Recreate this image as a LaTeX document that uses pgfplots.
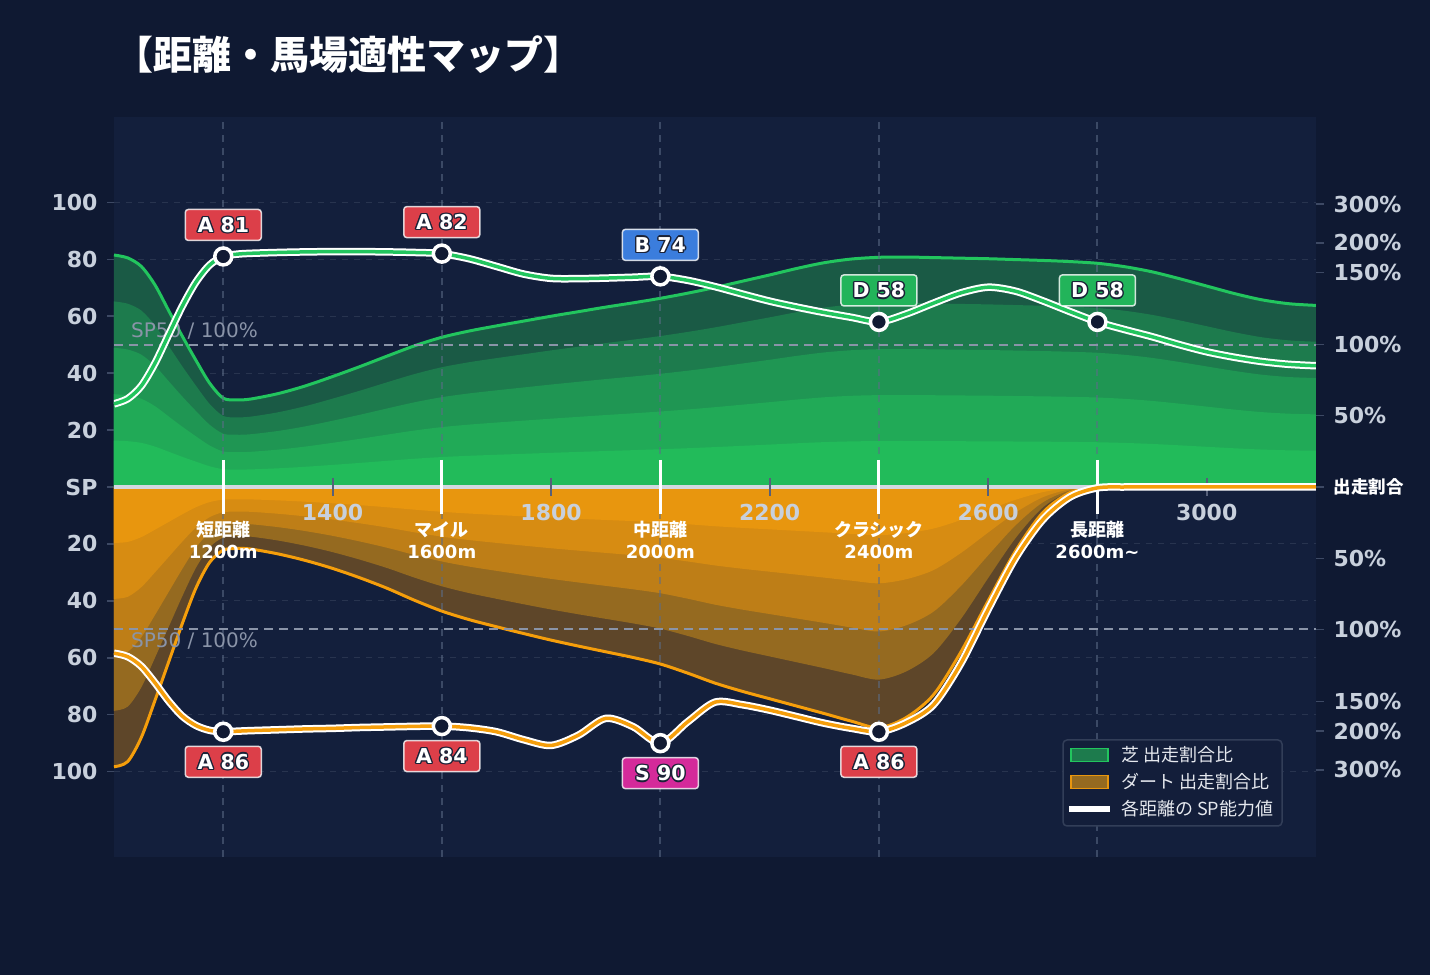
\documentclass[border=0pt]{standalone}
\usepackage{fontspec}
\setmainfont{DejaVu Sans}
\newfontfamily\cjk{Noto Sans CJK JP}
\usepackage{pgfplots}
\usepackage{pgfplotstable}
\pgfplotsset{compat=1.18}

% palette
\definecolor{figbg}{HTML}{0F1932}
\definecolor{plotbg}{HTML}{131F3C}
\definecolor{gridc}{HTML}{28344F}
\definecolor{vgridc}{HTML}{5C6D88}
\definecolor{refc}{HTML}{8A94A8}
\definecolor{ticklbl}{HTML}{C8D0DC}
\definecolor{tickmark}{HTML}{3D4964}
\definecolor{xtickc}{HTML}{56607A}
\definecolor{centerc}{HTML}{D3D8E0}
\definecolor{turf}{HTML}{22C55E}
\definecolor{dirt}{HTML}{F59E0B}
\definecolor{g1}{HTML}{1A5A45}
\definecolor{g2}{HTML}{1D7B4D}
\definecolor{g3}{HTML}{1F9653}
\definecolor{g4}{HTML}{21AA57}
\definecolor{g5}{HTML}{22BB5A}
\definecolor{o1}{HTML}{5E4629}
\definecolor{o2}{HTML}{956A20}
\definecolor{o3}{HTML}{BE7E17}
\definecolor{o4}{HTML}{D78C12}
\definecolor{o5}{HTML}{E8960E}
\definecolor{gradeA}{HTML}{DC3F49}
\definecolor{gradeB}{HTML}{3B7DDD}
\definecolor{gradeD}{HTML}{22B45A}
\definecolor{gradeS}{HTML}{D42A9A}
\definecolor{markfill}{HTML}{111A33}
\definecolor{olc}{HTML}{1B2237}
\definecolor{legbg}{HTML}{131E3A}
\definecolor{legborder}{HTML}{323E58}
\definecolor{legtext}{HTML}{E5E8EE}

\newcommand\fs[1]{\fontsize{#1}{#1}\selectfont}
% white text with a dark outline
\newcommand\ol[1]{\begingroup
  \setbox0\hbox{\color{olc}#1}%
  \def\olcopy(##1,##2){\rlap{\kern##1\raise##2\copy0}}%
  \olcopy(-1.4pt,0pt)\olcopy(1.4pt,0pt)\olcopy(0pt,1.4pt)\olcopy(0pt,-1.4pt)%
  \olcopy(-1pt,1pt)\olcopy(1pt,1pt)\olcopy(-1pt,-1pt)\olcopy(1pt,-1pt)%
  \textcolor{white}{#1}\endgroup}

% turf: total start share (outer envelope)
\pgfplotstableread{
m v
1000 81.5
1025 80.5
1050 77.5
1075 71
1100 62
1125 53
1150 44.5
1175 36.5
1200 31.2
1225 30.6
1250 30.9
1300 32.8
1350 35.5
1400 38.8
1450 42.3
1500 46
1550 49.6
1600 52.6
1650 54.8
1700 56.6
1750 58.3
1800 60
1850 61.6
1900 63.2
1950 64.7
2000 66.3
2050 68.1
2100 70.1
2150 72.3
2200 74.5
2250 76.8
2300 78.8
2350 80.1
2400 80.7
2450 80.8
2500 80.6
2550 80.4
2600 80.2
2650 79.9
2700 79.6
2750 79.2
2800 78.6
2850 77.4
2900 75.6
2950 73.2
3000 70.6
3050 68
3100 65.8
3150 64.4
3200 63.8
}\turfarea

% turf: SP rating by distance
\pgfplotstableread{
m v
1000 29.2
1025 31
1050 35.5
1075 43.5
1100 53.5
1125 63.5
1150 72
1175 78
1200 81
1225 81.8
1250 82.1
1300 82.4
1350 82.6
1400 82.7
1450 82.7
1500 82.6
1550 82.4
1600 82
1650 80.2
1700 77.5
1750 74.8
1800 73.3
1850 73.2
1900 73.4
1950 73.7
2000 74
2050 72.6
2100 70.4
2150 67.8
2200 65.3
2250 63.2
2300 61.3
2350 59.6
2400 58
2450 60.8
2500 64.6
2550 68.2
2600 70.2
2650 68.8
2700 65.4
2750 61.6
2800 58
2850 55.3
2900 52.8
2950 50
3000 47.5
3050 45.6
3100 44.1
3150 43.1
3200 42.6
}\turfsp

% dirt: total start share (drawn downwards)
\pgfplotstableread{
m v
1000 -98.3
1025 -96.5
1050 -88
1075 -75
1100 -61.5
1125 -48
1150 -35.5
1175 -26.5
1200 -22.2
1225 -21.6
1250 -21.8
1300 -23.5
1350 -25.8
1400 -28.6
1450 -31.9
1500 -35.6
1550 -39.8
1600 -43.6
1650 -46.6
1700 -49.1
1750 -51.5
1800 -53.8
1850 -55.9
1900 -57.9
1950 -59.9
2000 -62.2
2050 -65.4
2100 -68.9
2150 -71.8
2200 -74.4
2250 -77
2300 -79.6
2350 -82.3
2400 -84.6
2450 -81
2500 -73
2550 -58
2600 -40
2650 -22.5
2700 -9
2750 -2
2800 -0.2
2850 0
2900 0
2950 0
3000 0
3050 0
3100 0
3150 0
3200 0
}\dirtarea

% dirt: SP rating by distance (drawn downwards)
\pgfplotstableread{
m v
1000 -58.4
1025 -59.6
1050 -63
1075 -68.8
1100 -75.2
1125 -80.5
1150 -83.8
1175 -85.5
1200 -86
1225 -85.8
1250 -85.6
1300 -85.3
1350 -85
1400 -84.8
1450 -84.5
1500 -84.3
1550 -84.1
1600 -84
1650 -84.6
1700 -86
1750 -88.8
1800 -90.8
1850 -87.2
1900 -81.3
1950 -84.2
2000 -90
2050 -82.5
2100 -75.6
2150 -76.5
2200 -78.4
2250 -80.7
2300 -83
2350 -84.8
2400 -86
2450 -82.8
2500 -76.5
2550 -62
2600 -43
2650 -25
2700 -11.5
2750 -3.5
2800 -0.3
2850 0
2900 0
2950 0
3000 0
3050 0
3100 0
3150 0
3200 0
}\dirtsp

\pgfplotsset{
  band/.style={smooth, draw=none, fill=#1},
  grade/.style 2 args={only marks, mark=*, mark size=8.5pt,
    mark options={fill=markfill, draw=white, line width=3.5pt, solid},
    point meta=explicit symbolic,
    nodes near coords={\ol{\pgfplotspointmeta}},
    every node near coord/.append style={anchor=center, yshift=#2,
      fill=#1, draw=white, draw opacity=0.8, line width=1.5pt,
      rounded corners=3pt, minimum width=76pt, minimum height=31pt,
      inner sep=0pt, font=\bfseries\fs{20.5}, text=white}},
}
\tikzset{
  vgrid/.style={draw=vgridc, draw opacity=0.55, line width=2pt, dash pattern=on 7pt off 6pt},
  refl/.style={draw=refc, line width=2pt, dash pattern=on 9pt off 6pt},
  catname/.style={font=\cjk\bfseries\fs{18}, text=white, inner sep=0pt},
  catdist/.style={font=\bfseries\fs{18}, text=white, inner sep=0pt},
}

\begin{document}
\begin{tikzpicture}
\fill[figbg] (0pt,0pt) rectangle (1430pt,975pt);
\node[anchor=west, text=white, font=\cjk\bfseries\fs{39}, inner sep=0pt] at (114pt,920pt) {【距離・馬場適性マップ】};

\begin{axis}[
  at={(114pt,118pt)}, anchor=south west,
  scale only axis, width=1202pt, height=740pt,
  xmin=1000, xmax=3200, ymin=-130, ymax=130,
  axis background/.style={fill=plotbg},
  axis line style={draw=none},
  xtick=\empty,
  ytick={-100,-80,...,100},
  yticklabels={100,80,60,40,20,SP,20,40,60,80,100},
  ytick pos=left,
  tick align=outside,
  major tick length=7pt,
  tick style={draw=tickmark, line width=1.5pt},
  ymajorgrids,
  major grid style={draw=gridc, line width=1pt, dash pattern=on 6pt off 6pt},
  yticklabel style={font=\bfseries\fs{22}, text=ticklbl, xshift=-6pt},
]
% turf share bands, outermost first
\addplot[band=g1] table[x=m, y=v] {\turfarea} \closedcycle;
\addplot[band=g2] table[x=m, y expr=0.8*\thisrow{v}] {\turfarea} \closedcycle;
\addplot[band=g3] table[x=m, y expr=0.6*\thisrow{v}] {\turfarea} \closedcycle;
\addplot[band=g4] table[x=m, y expr=0.4*\thisrow{v}] {\turfarea} \closedcycle;
\addplot[band=g5] table[x=m, y expr=0.2*\thisrow{v}] {\turfarea} \closedcycle;
% dirt share bands
\addplot[band=o1] table[x=m, y=v] {\dirtarea} \closedcycle;
\addplot[band=o2] table[x=m, y expr=0.8*\thisrow{v}] {\dirtarea} \closedcycle;
\addplot[band=o3] table[x=m, y expr=0.6*\thisrow{v}] {\dirtarea} \closedcycle;
\addplot[band=o4] table[x=m, y expr=0.4*\thisrow{v}] {\dirtarea} \closedcycle;
\addplot[band=o5] table[x=m, y expr=0.2*\thisrow{v}] {\dirtarea} \closedcycle;
% envelopes
\addplot[smooth, draw=turf, line width=3pt] table[x=m, y=v] {\turfarea};
\addplot[smooth, draw=dirt, line width=3pt] table[x=m, y=v] {\dirtarea};

% category guides
\pgfplotsinvokeforeach{1200,1600,2000,2400,2800}{
  \draw[vgrid] (axis cs:#1,-130) -- (axis cs:#1,130);
}
% SP50 reference lines
\draw[refl] (axis cs:1000,50) -- (axis cs:3200,50);
\draw[refl] (axis cs:1000,-50) -- (axis cs:3200,-50);
\node[anchor=west, text=refc, font=\fs{20}, inner sep=0pt] at (axis cs:1031,54.9) {SP50 / 100\%};
\node[anchor=west, text=refc, font=\fs{20}, inner sep=0pt] at (axis cs:1031,-54.1) {SP50 / 100\%};

% centre line and distance ticks
\draw[centerc, line width=3.5pt] (axis cs:1000,0) -- (axis cs:3200,0);
\pgfplotsinvokeforeach{1400,1800,2200,2600,3000}{
  \draw[xtickc, line width=2pt] (axis cs:#1,3.3) -- (axis cs:#1,-3.3);
  \node[text=ticklbl, font=\bfseries\fs{22}, inner sep=0pt] at (axis cs:#1,-8.8) {#1};
}
\pgfplotsinvokeforeach{1200,1600,2000,2400,2800}{
  \draw[white, line width=3pt] (axis cs:#1,9.5) -- (axis cs:#1,-9.5);
}
\node[catname] at (axis cs:1200,-15.1) {短距離};
\node[catdist] at (axis cs:1200,-22.8) {1200m};
\node[catname] at (axis cs:1600,-15.1) {マイル};
\node[catdist] at (axis cs:1600,-22.8) {1600m};
\node[catname] at (axis cs:2000,-15.1) {中距離};
\node[catdist] at (axis cs:2000,-22.8) {2000m};
\node[catname] at (axis cs:2400,-15.1) {クラシック};
\node[catdist] at (axis cs:2400,-22.8) {2400m};
\node[catname] at (axis cs:2800,-15.1) {長距離};
\node[catdist] at (axis cs:2800,-22.8) {2600m\textasciitilde};

% SP rating lines
\addplot[smooth, white, line width=7.5pt] table[x=m, y=v] {\turfsp};
\addplot[smooth, turf, line width=3.5pt] table[x=m, y=v] {\turfsp};
\addplot[smooth, white, line width=7.5pt] table[x=m, y=v] {\dirtsp};
\addplot[smooth, dirt, line width=3.5pt] table[x=m, y=v] {\dirtsp};

% graded points
\addplot[grade={gradeA}{31.5pt}] coordinates {(1200,81) [A 81] (1600,82) [A 82]};
\addplot[grade={gradeB}{31.5pt}] coordinates {(2000,74) [B 74]};
\addplot[grade={gradeD}{31.5pt}] coordinates {(2400,58) [D 58] (2800,58) [D 58]};
\addplot[grade={gradeA}{-30pt}] coordinates {(1200,-86) [A 86] (1600,-84) [A 84] (2400,-86) [A 86]};
\addplot[grade={gradeS}{-30pt}] coordinates {(2000,-90) [S 90]};
\end{axis}

% share scale on the right
\begin{axis}[
  at={(114pt,118pt)}, anchor=south west,
  scale only axis, width=1202pt, height=740pt,
  xmin=1000, xmax=3200, ymin=-130, ymax=130,
  hide x axis, axis y line*=right, axis line style={draw=none},
  ytick={-99.4,-85.8,-75.3,-50,-25.2,0,25.2,50,75.3,85.8,99.4},
  yticklabels={300\%,200\%,150\%,100\%,50\%,{\cjk\bfseries\fs{17.5}\color{white}出走割合},50\%,100\%,150\%,200\%,300\%},
  tick align=outside, major tick length=8pt,
  tick style={draw=tickmark, line width=1.5pt},
  yticklabel style={font=\bfseries\fs{22}, text=ticklbl, xshift=6pt},
]
\addplot[draw=none] coordinates {(1000,0)};
\end{axis}

% legend
\filldraw[fill=legbg, draw=legborder, line width=1.5pt, rounded corners=4pt] (1063pt,149pt) rectangle (1282pt,235pt);
\filldraw[fill=g2, draw=turf, line width=1.5pt] (1071pt,213.5pt) rectangle (1108pt,226.5pt);
\filldraw[fill=o2, draw=o5, line width=1.5pt] (1071pt,186.5pt) rectangle (1108pt,199.5pt);
\draw[white, line width=5.5pt] (1069pt,166pt) -- (1110pt,166pt);
\node[anchor=west, text=legtext, font=\cjk\fs{18}, inner sep=0pt] at (1121pt,220pt) {芝 出走割合比};
\node[anchor=west, text=legtext, font=\cjk\fs{18}, inner sep=0pt] at (1121pt,193pt) {ダート 出走割合比};
\node[anchor=west, text=legtext, font=\cjk\fs{18}, inner sep=0pt] at (1121pt,166pt) {各距離の SP能力値};

\pgfresetboundingbox
\path[use as bounding box] (0pt,0pt) rectangle (1430pt,975pt);
\end{tikzpicture}
\end{document}
